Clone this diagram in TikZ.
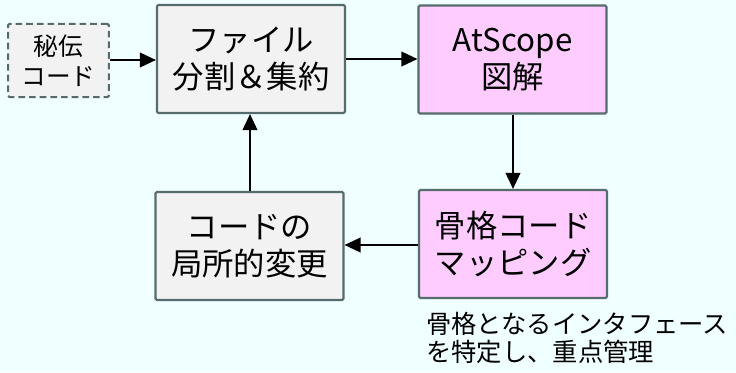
\documentclass[tikz,border=0pt]{standalone}
\usepackage{fontspec}
\setmainfont{Noto Sans CJK JP}
\usetikzlibrary{arrows.meta}
\definecolor{bgc}{HTML}{F0FFFF}
\definecolor{grayfill}{HTML}{F2F2F2}
\definecolor{pinkfill}{HTML}{FFCCFF}
\definecolor{edgec}{HTML}{566B6B}
\tikzset{
  box/.style={draw=edgec, line width=1.6pt, rounded corners=1pt, align=center, inner sep=0pt,
    font=\fontsize{23.5}{28}\selectfont, text=black},
  graybox/.style={box, fill=grayfill, minimum width=141pt, minimum height=81pt},
  pinkbox/.style={box, fill=pinkfill, minimum width=141pt, minimum height=81pt},
  srcbox/.style={box, dashed, dash pattern=on 5pt off 3pt, fill=grayfill, minimum width=75.5pt, minimum height=55pt,
    font=\fontsize{18.5}{22.5}\selectfont},
  flow/.style={line width=1.3pt, -{Triangle[length=12pt,width=11pt]}},
}
\begin{document}
\begin{tikzpicture}[x=0.75pt,y=-0.75pt]
\fill[bgc] (0,0) rectangle (736,372);
\useasboundingbox (0,0) rectangle (736,372);
\node[srcbox] (src) at (58.5,60.5) {秘伝\\コード};
\node[graybox] (split) at (251,59) {ファイル\\分割＆集約};
\node[pinkbox] (atscope) at (512.5,59.5) {AtScope\\図解};
\node[pinkbox] (map) at (513,244) {骨格コード\\マッピング};
\node[graybox] (local) at (249.5,246) {コードの\\局所的変更};
\node[anchor=north west, inner sep=0pt, align=left, font=\fontsize{19}{21}\selectfont] (note) at (426,312)
  {骨格となるインタフェース\\を特定し、重点管理};
\draw[flow] (src.east |- 0,60) -- (split.west |- 0,60);
\draw[flow] (split.east |- 0,59) -- (atscope.west |- 0,59);
\draw[flow] (atscope.south -| 513,0) -- (map.north -| 513,0);
\draw[flow] (map.west |- 0,245) -- (local.east |- 0,245);
\draw[flow] (local.north -| 250,0) -- (split.south -| 250,0);
\end{tikzpicture}
\end{document}
